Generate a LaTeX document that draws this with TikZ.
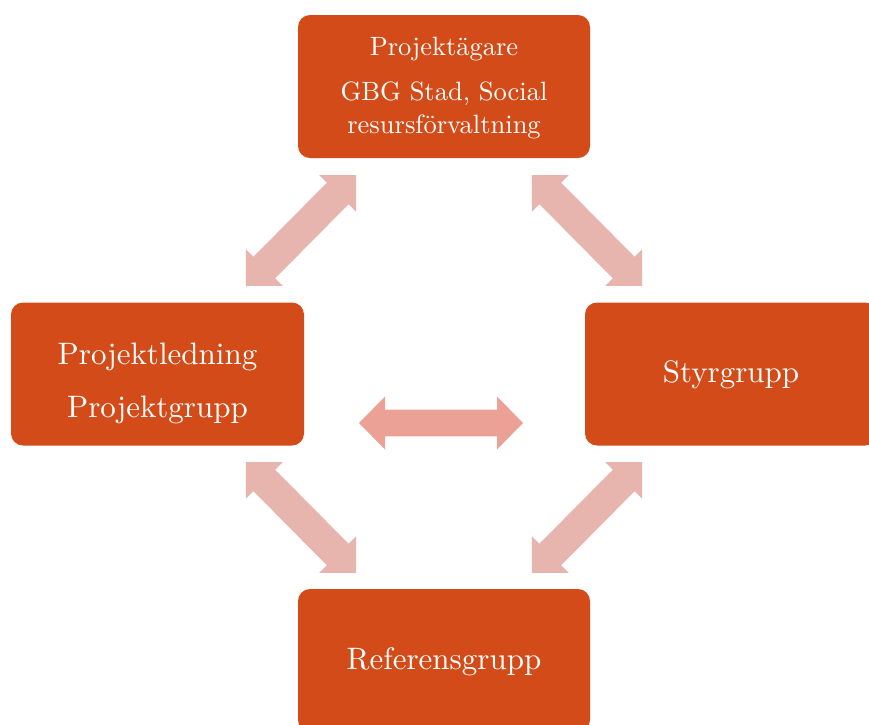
\documentclass[tikz,border=0pt]{standalone}
\usepackage{fontspec}
\setmainfont{lmroman10-regular}[Extension=.otf]
\usetikzlibrary{calc}
\definecolor{boxfill}{HTML}{D24B18}
\definecolor{diagarrow}{HTML}{E8B4AE}
\definecolor{midarrow}{HTML}{EBA195}
\tikzset{
  orgbox/.style={fill=boxfill, draw=none, rounded corners=12pt, minimum width=292pt, minimum height=143pt, inner sep=0pt},
  boxtext/.style={text=white, anchor=base, inner sep=0pt, font=\fontsize{31}{36}\selectfont},
  smalltext/.style={text=white, anchor=base, inner sep=0pt, font=\fontsize{26.5}{30}\selectfont},
  diagfill/.style={fill=diagarrow},
  midfill/.style={fill=midarrow},
}
% #1 tip A, #2 tip B, #3 head length, #4 head half width, #5 shaft half width, #6 style
\newcommand\dblarrow[6]{%
  \coordinate (hA) at ($(#1)!#3!(#2)$);
  \coordinate (hB) at ($(#2)!#3!(#1)$);
  \fill[#6] (#1) -- ($(hA)!#4!90:(#2)$) -- ($(hA)!#5!90:(#2)$)
    -- ($(hB)!#5!-90:(#1)$) -- ($(hB)!#4!-90:(#1)$) -- (#2)
    -- ($(hB)!#4!90:(#1)$) -- ($(hB)!#5!90:(#1)$)
    -- ($(hA)!#5!-90:(#2)$) -- ($(hA)!#4!-90:(#2)$) -- cycle;
}
\begin{document}
\begin{tikzpicture}[x=1pt,y=-1pt]
\useasboundingbox (0,0) rectangle (869,724);
\begin{scope}
\clip (0,0) rectangle (869,724);
% boxes
\node[orgbox] (owner) at (444,86.5) {};
\node[orgbox, minimum width=293pt] (lead) at (157.5,374) {};
\node[orgbox] (steer) at (731,374) {};
\node[orgbox] (ref) at (444,660.5) {};
% texts
\node[smalltext] (ownerA) at (444,55) {Projektägare};
\node[smalltext] (ownerB) at (444,100) {GBG Stad, Social};
\node[smalltext] (ownerC) at (444,133) {resursförvaltning};
\node[boxtext] (leadA) at (157.5,364) {Projektledning};
\node[boxtext] (leadB) at (157.5,417) {Projektgrupp};
\node[boxtext] (steerA) at (731,382) {Styrgrupp};
\node[boxtext] (refA) at (444,669) {Referensgrupp};
% arrow tips
\coordinate (tlA) at (246,286); \coordinate (tlB) at (356,175);
\coordinate (trA) at (532,175); \coordinate (trB) at (642,286);
\coordinate (blA) at (246,462); \coordinate (blB) at (356,573);
\coordinate (brA) at (642,462); \coordinate (brB) at (532,573);
\coordinate (mA) at (359,423); \coordinate (mB) at (523,423);
\dblarrow{tlA}{tlB}{26pt}{26pt}{15.3pt}{diagfill}
\dblarrow{trA}{trB}{26pt}{26pt}{15.3pt}{diagfill}
\dblarrow{blA}{blB}{26pt}{26pt}{15.3pt}{diagfill}
\dblarrow{brA}{brB}{26pt}{26pt}{15.3pt}{diagfill}
\dblarrow{mA}{mB}{26pt}{26.5pt}{13.3pt}{midfill}
\end{scope}
\end{tikzpicture}
\end{document}
